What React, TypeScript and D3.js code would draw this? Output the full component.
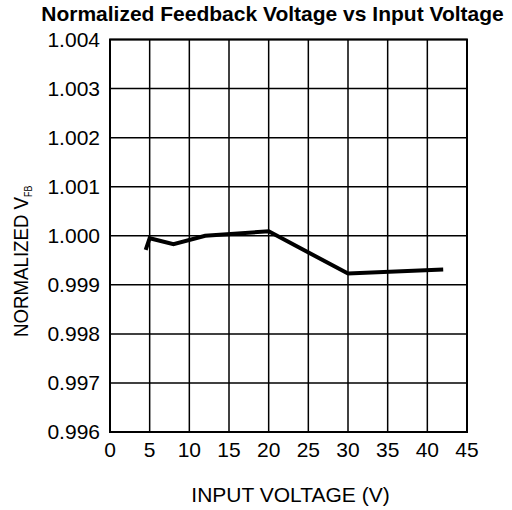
import React, { useEffect, useRef } from "react";
import * as d3 from "d3";

const inputVoltage = [4.5, 5, 8, 12, 20, 30, 42];
const normalizedVfb = [0.99971, 0.99995, 0.99983, 1.0, 1.00009, 0.99923, 0.99931];
const xTicks = [0, 5, 10, 15, 20, 25, 30, 35, 40, 45];
const yTicks = [0.996, 0.997, 0.998, 0.999, 1.0, 1.001, 1.002, 1.003, 1.004];

const App = () => {
  const svgRef = useRef<SVGSVGElement>(null);

  useEffect(() => {
    const svg = d3.select(svgRef.current);
    svg.selectAll("*").remove();

    const width = 512;
    const height = 510;
    const margin = { left: 110, right: 45, top: 39.5, bottom: 78 };
    const font = "Liberation Sans, Arial, sans-serif";

    const x = d3.scaleLinear().domain([0, 45]).range([margin.left, width - margin.right]);
    const y = d3.scaleLinear().domain([0.996, 1.004]).range([height - margin.bottom, margin.top]);

    // grid
    const grid = svg.append("g").attr("stroke", "#000").attr("stroke-width", 1.5);
    grid.selectAll("line.v")
      .data(xTicks)
      .enter()
      .append("line")
      .attr("x1", d => x(d))
      .attr("x2", d => x(d))
      .attr("y1", y(0.996))
      .attr("y2", y(1.004));
    grid.selectAll("line.h")
      .data(yTicks)
      .enter()
      .append("line")
      .attr("x1", x(0))
      .attr("x2", x(45))
      .attr("y1", d => y(d))
      .attr("y2", d => y(d));

    svg.append("rect")
      .attr("x", x(0))
      .attr("y", y(1.004))
      .attr("width", x(45) - x(0))
      .attr("height", y(0.996) - y(1.004))
      .attr("fill", "none")
      .attr("stroke", "#000")
      .attr("stroke-width", 2);

    // tick labels
    svg.selectAll("text.xt")
      .data(xTicks)
      .enter()
      .append("text")
      .attr("x", d => x(d))
      .attr("y", y(0.996) + 25)
      .attr("text-anchor", "middle")
      .style("font-family", font)
      .style("font-size", "21px")
      .text(d => d);

    svg.selectAll("text.yt")
      .data(yTicks)
      .enter()
      .append("text")
      .attr("x", x(0) - 10)
      .attr("y", d => y(d) + 7)
      .attr("text-anchor", "end")
      .style("font-family", font)
      .style("font-size", "21px")
      .text(d => d3.format(".3f")(d));

    // data line
    const line = d3.line<number>()
      .x((d, i) => x(inputVoltage[i]))
      .y(d => y(d));
    svg.append("path")
      .datum(normalizedVfb)
      .attr("d", line)
      .attr("fill", "none")
      .attr("stroke", "#000")
      .attr("stroke-width", 4)
      .attr("stroke-linejoin", "miter");

    // title
    svg.append("text")
      .attr("x", 272.5)
      .attr("y", 21)
      .attr("text-anchor", "middle")
      .style("font-family", font)
      .style("font-size", "21px")
      .style("font-weight", "bold")
      .text("Normalized Feedback Voltage vs Input Voltage");

    // x label
    svg.append("text")
      .attr("x", 290.5)
      .attr("y", 502)
      .attr("text-anchor", "middle")
      .style("font-family", font)
      .style("font-size", "21px")
      .text("INPUT VOLTAGE (V)");

    // y label (slightly condensed like the source)
    const yl = svg.append("text")
      .attr("transform", "translate(28, 337) rotate(-90) scale(0.89, 1)")
      .attr("text-anchor", "start")
      .style("font-family", font)
      .style("font-size", "21px");
    yl.append("tspan").text("NORMALIZED V");
    yl.append("tspan").attr("dy", 4).style("font-size", "10px").text("FB");
  }, []);

  return (
    <svg
      ref={svgRef}
      width={512}
      height={510}
      viewBox="0 0 512 510"
      style={{ position: "absolute", left: 0, top: 0, background: "#fff" }}
    />
  );
};

export default App;
